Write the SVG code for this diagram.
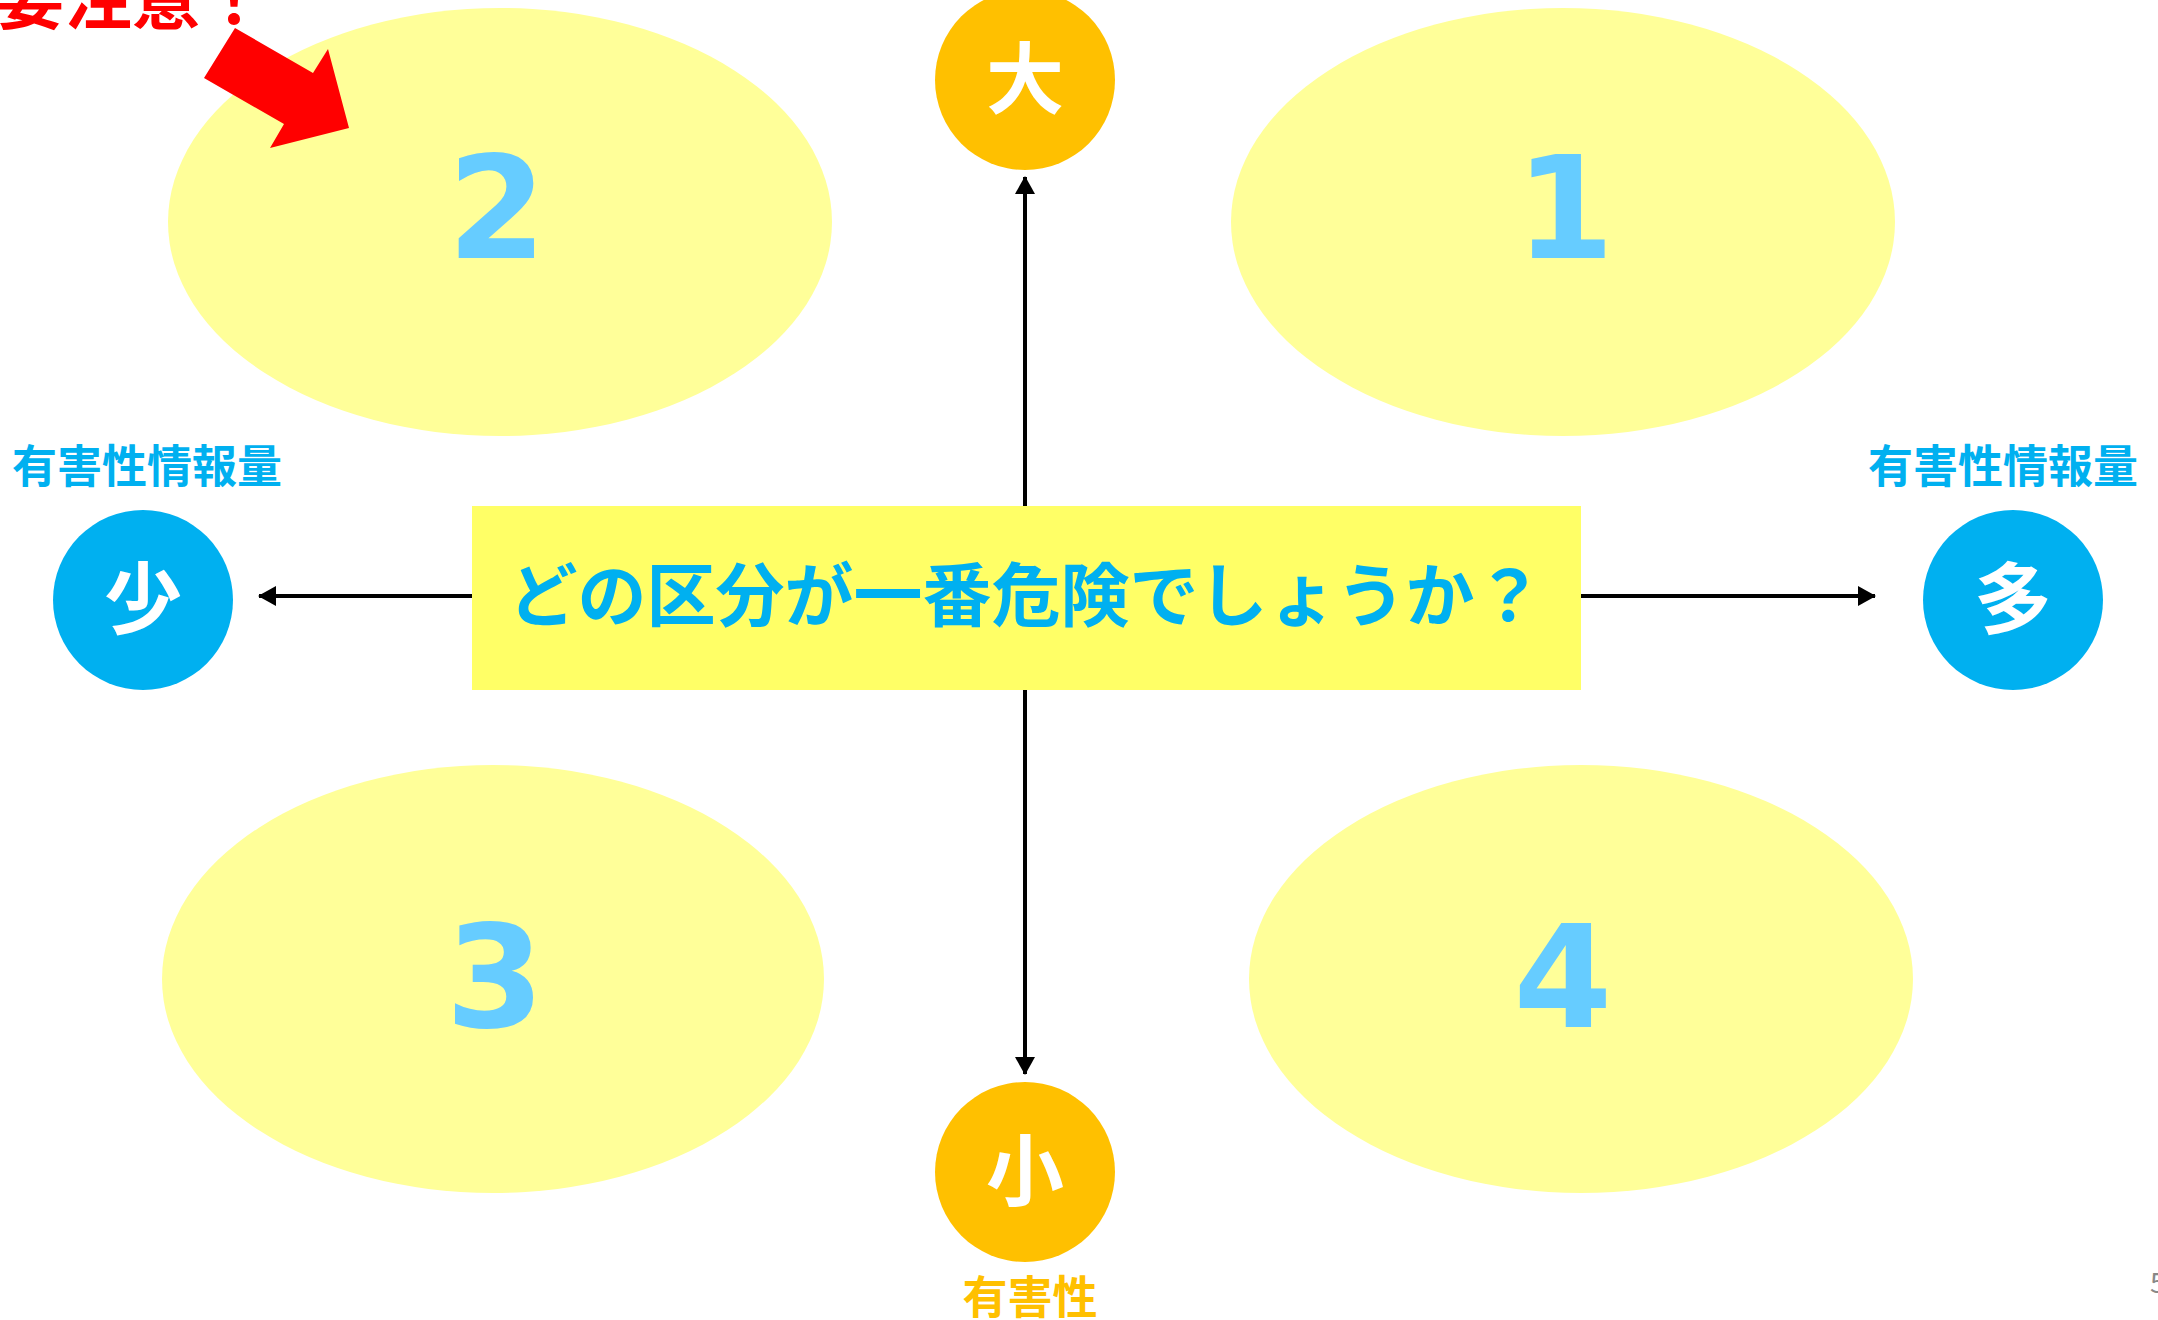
<svg xmlns="http://www.w3.org/2000/svg" width="2158" height="1320" viewBox="0 0 2158 1320">
<style>
text{font-family:"Noto Sans CJK JP","Noto Sans",sans-serif;font-weight:bold;text-anchor:middle}
.ell{fill:#FFFF99}
.num{fill:#66CCFF;font-size:142px;font-family:"DejaVu Sans",sans-serif}
.ax{stroke:#000;stroke-width:4;fill:none}
.c{font-size:78px;fill:#fff}
.lb{font-size:45px;fill:#00B0F0}
</style>
<defs>
<marker id="ah" viewBox="0 0 18 20" refX="17" refY="10" markerWidth="18" markerHeight="20" markerUnits="userSpaceOnUse" orient="auto">
<path d="M0,0 L18,10 L0,20 Z" fill="#000"/>
</marker>
</defs>
<rect width="2158" height="1320" fill="#fff"/>
<g id="q2"><ellipse class="ell" cx="500" cy="222" rx="332" ry="214"/><text class="num" x="497" y="258">2</text></g>
<g id="q1"><ellipse class="ell" cx="1563" cy="222" rx="332" ry="214"/><text class="num" x="1565" y="258">1</text></g>
<g id="q3"><ellipse class="ell" cx="493" cy="979" rx="331" ry="214"/><text class="num" x="495" y="1027">3</text></g>
<g id="q4"><ellipse class="ell" cx="1581" cy="979" rx="332" ry="214"/><text class="num" x="1563" y="1027">4</text></g>
<g id="connectors">
<line class="ax" x1="1025" y1="506" x2="1025" y2="177" marker-end="url(#ah)"/>
<line class="ax" x1="1025" y1="690" x2="1025" y2="1074" marker-end="url(#ah)"/>
<line class="ax" x1="472" y1="596" x2="259" y2="596" marker-end="url(#ah)"/>
<line class="ax" x1="1581" y1="596" x2="1875" y2="596" marker-end="url(#ah)"/>
</g>
<g id="center"><rect x="472" y="506" width="1109" height="184" fill="#FFFF66"/><text x="1026" y="621" font-size="69" fill="#00B0F0">どの区分が一番危険でしょうか？</text></g>
<g id="big"><circle cx="1025" cy="80" r="90" fill="#FFC000"/><text class="c" x="1025" y="108">大</text></g>
<g id="small"><circle cx="1025" cy="1172" r="90" fill="#FFC000"/><text class="c" x="1025" y="1200">小</text><text x="1030" y="1314" font-size="45" fill="#FFC000">有害性</text></g>
<g id="few"><circle cx="143" cy="600" r="90" fill="#00B0F0"/><text class="c" x="143" y="628">少</text><text class="lb" x="147" y="483">有害性情報量</text></g>
<g id="many"><circle cx="2013" cy="600" r="90" fill="#00B0F0"/><text class="c" x="2013" y="628">多</text><text class="lb" x="2003" y="483">有害性情報量</text></g>
<g id="note"><text x="132" y="24" font-size="68" fill="#FF0000">要注意！</text><polygon points="235,28 313,73 328,49 349,128 270,148 284,124 204,78" fill="#FF0000"/></g>
<text x="2150" y="1293" font-size="28" fill="#888" style="text-anchor:start;font-weight:normal">5</text>
</svg>
